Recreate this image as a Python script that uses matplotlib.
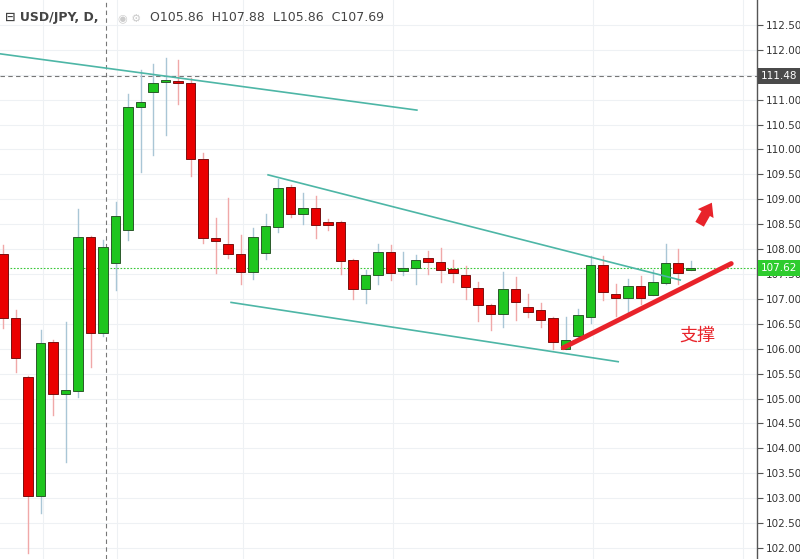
import matplotlib
matplotlib.use("Agg")
import matplotlib.pyplot as plt
from matplotlib.patches import Rectangle
import numpy as np

opens = [107.90,106.62,105.43,103.04,106.13,105.09,105.15,108.24,106.32,107.72,108.38,110.85,111.15,111.36,111.34,111.34,109.81,108.22,108.10,107.90,107.54,107.92,108.44,109.25,108.70,108.82,108.54,108.54,107.78,107.20,107.48,107.94,107.56,107.62,107.82,107.74,107.60,107.48,107.22,106.88,106.70,107.20,106.84,106.78,106.62,105.99,106.25,106.64,107.68,107.10,107.02,107.26,107.08,107.32,107.72,107.58]
closes = [106.62,105.81,103.04,106.11,105.09,105.17,108.24,106.32,108.04,108.66,110.85,110.95,111.34,111.37,111.33,109.81,108.22,108.16,107.90,107.54,108.24,108.46,109.22,108.70,108.82,108.48,108.48,107.76,107.20,107.48,107.94,107.52,107.62,107.78,107.74,107.58,107.52,107.24,106.88,106.70,107.20,106.94,106.74,106.58,106.13,106.17,106.68,107.68,107.14,107.02,107.26,107.02,107.34,107.72,107.52,107.62]
highs = [108.08,106.78,105.45,106.38,106.17,106.54,108.80,108.26,108.18,108.95,111.11,111.60,111.72,111.84,111.80,111.44,109.93,108.62,109.03,108.28,108.42,108.70,109.40,109.29,109.12,109.06,108.60,108.56,107.80,107.58,108.10,108.08,107.94,107.88,107.96,108.02,107.78,107.66,107.34,106.90,107.54,107.44,107.10,106.92,106.64,106.64,106.80,107.86,107.86,107.30,107.40,107.46,107.58,108.10,108.00,107.76]
lows = [106.42,105.53,101.90,102.70,104.67,103.72,105.03,105.63,106.26,107.18,108.18,109.55,109.89,110.29,110.91,109.47,108.12,107.52,107.82,107.30,107.40,107.80,108.34,108.64,108.50,108.22,108.38,107.50,106.99,106.92,107.30,107.38,107.48,107.30,107.50,107.34,107.34,106.99,106.56,106.38,106.44,106.58,106.64,106.44,105.99,105.99,106.17,106.52,106.98,106.66,106.70,106.90,107.08,107.30,107.30,107.58]

lines_teal = [((-0.24,111.92),(33.1,110.79)), ((21.2,109.49),(54.16,107.38)), ((18.24,106.93),(49.2,105.74))]
line_red = ((44.8,106.02),(58.24,107.71))
yticks = np.arange(102.0, 112.51, 0.5)

fig = plt.figure(figsize=(8,5.59), dpi=100)
ax = fig.add_axes([0,0,757/800,1])
ax.set_xlim(-0.24, 60.3)
ax.set_ylim(101.78, 113.0)

GREEN, RED = '#1ec51e', '#ea0000'
for i,(o,c,h,l) in enumerate(zip(opens,closes,highs,lows)):
    up = c >= o
    col = GREEN if up else RED
    wick = '#a9c6d6' if up else '#f0a8a8'
    ax.plot([i,i],[l,h], color=wick, lw=1, zorder=2)
    bot = min(o,c); hgt = max(abs(c-o), 0.04)
    ax.add_patch(Rectangle((i-0.38,bot),0.76,hgt, facecolor=col, edgecolor='#2a5a2a' if up else '#7a1010', lw=0.7, zorder=3))

for y in yticks:
    ax.axhline(y, color='#eef1f4', lw=0.8, zorder=0)
for xp in [43,117,243,393,593,743]:
    ax.axvline((xp-3)/12.5, color='#eef1f4', lw=0.8, zorder=0)
ax.axvline((106-3)/12.5, color='#777777', lw=0.8, ls=(0,(4,3)), zorder=1)
ax.axhline(111.48, color='#777777', lw=0.8, ls=(0,(4,3)), zorder=1)
ax.axhline(107.62, color='#38c838', lw=0.8, ls=(0,(1.5,1.5)), zorder=1)

for (a,b) in lines_teal:
    ax.plot([a[0],b[0]],[a[1],b[1]], color='#4db6a6', lw=1.2, zorder=4)
ax.plot([line_red[0][0],line_red[1][0]],[line_red[0][1],line_red[1][1]], color='#e8232a', lw=3.5, solid_capstyle='round', zorder=5)
ax.annotate('', xy=(56.8,108.98), xytext=(55.6,108.45),
            arrowprops=dict(arrowstyle='simple,head_width=1.3,head_length=0.9,tail_width=0.7', color='#e8232a', lw=0), zorder=5)
ax.text(54.1,106.16,'支撑', color='#e8232a', fontsize=13, family=['Noto Sans CJK SC','DejaVu Sans'], zorder=6)

ax.spines[:].set_visible(False)
ax.set_xticks([])
ax.yaxis.tick_right()
ax.set_yticks(yticks)
ax.set_yticklabels(['' if abs(v-111.5)<1e-6 else f'{v:.2f}' for v in yticks], fontsize=7.5, color='#333333')
ax.tick_params(axis='y', length=4, color='#555555', pad=2)
ax.plot([1,1],[0,1], transform=ax.transAxes, color='#555555', lw=1, clip_on=False)

for val,bg in [(111.48,'#4a4a4a'),(107.62,'#2ecc2e')]:
    ax.text(1.005, val, f'{val:.2f}', transform=ax.get_yaxis_transform(), fontsize=7.5, color='white', va='center', ha='left', bbox=dict(boxstyle='square,pad=0.3', fc=bg, ec='none'), zorder=10, clip_on=False)

fig.text(0.006, 0.968, '⊟ USD/JPY, D,', fontsize=9, color='#444444', fontweight='bold', va='center')
fig.text(0.148, 0.968, '◉ ⚙', fontsize=8, color='#cccccc', va='center')
fig.text(0.187, 0.968, 'O105.86  H107.88  L105.86  C107.69', fontsize=9, color='#444444', va='center')

fig.savefig('out.png', dpi=100, facecolor='white')
